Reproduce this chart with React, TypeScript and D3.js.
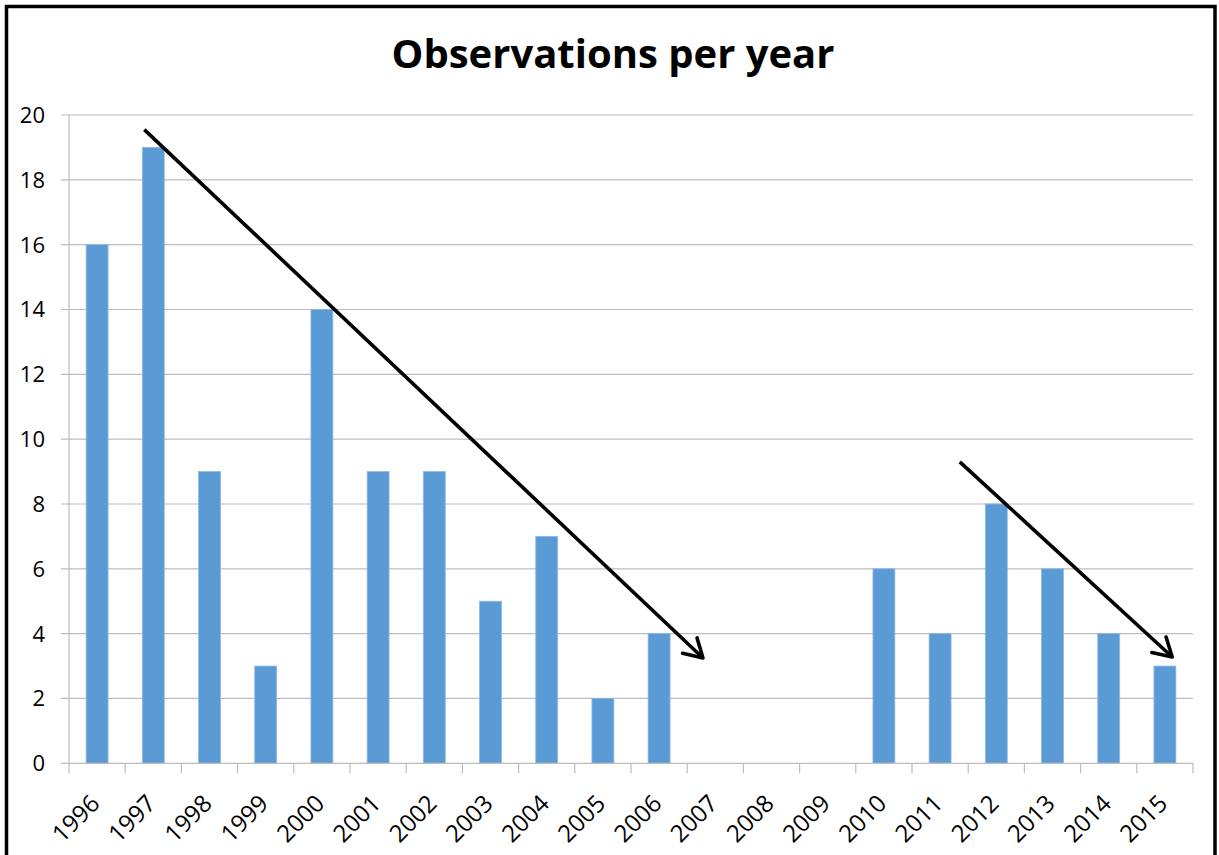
import React from "react";
import * as d3 from "d3";

const years = ["1996","1997","1998","1999","2000","2001","2002","2003","2004","2005","2006","2007","2008","2009","2010","2011","2012","2013","2014","2015"];
const counts = [16, 19, 9, 3, 14, 9, 9, 5, 7, 2, 4, 0, 0, 0, 6, 4, 8, 6, 4, 3];
const yTicks = [0, 2, 4, 6, 8, 10, 12, 14, 16, 18, 20];
const title = "Observations per year";
// trend arrows: category + fractional offset from band centre, value
const arrows = [
  { from: { year: "1997", dx: -0.16, v: 19.55 }, to: { year: "2007", dx: -0.22, v: 3.25 } },
  { from: { year: "2011", dx: 0.35, v: 9.3 }, to: { year: "2015", dx: 0.13, v: 3.28 } },
];

const W = 1219, H = 855;
const left = 69, right = 1193, top = 115, bottom = 763.3;

export default function App() {
  const x = d3.scaleBand<string>().domain(years).range([left, right]).paddingInner(0.61).paddingOuter(0.305);
  const step = (right - left) / years.length;
  const y = d3.scaleLinear().domain([0, 20]).range([bottom, top]);
  const cx = (yr: string, dx: number) => (x(yr) as number) + x.bandwidth() / 2 + dx * step;
  const font = "'Open Sans', sans-serif";
  return (
    <div style={{ position: "absolute", left: 0, top: 0 }}>
      <svg width={W} height={H} style={{ display: "block", background: "#fff" }}>
        <defs>
          <marker id="ah" markerUnits="userSpaceOnUse" markerWidth="40" markerHeight="40" viewBox="-25 -20 30 40" refX="0" refY="0" orient="auto">
            <path d="M-18,-10.5 L0,0 L-18,10.5" fill="none" stroke="#000" strokeWidth={3.6} strokeLinecap="round" strokeLinejoin="round" />
          </marker>
        </defs>
        <rect x={6.5} y={6.5} width={1208.5} height={H + 10} fill="#fff" stroke="#000" strokeWidth={3.5} />
        <text x={613} y={68} textAnchor="middle" fontFamily={font} fontWeight={700} fontSize={40} fill="#000">{title}</text>
        {yTicks.map((t) => (
          <g key={t}>
            {t > 0 && <line x1={left - 8} x2={right} y1={y(t)} y2={y(t)} stroke="#BDBDBD" strokeWidth={1.2} />}
            <text x={45} y={y(t)} dy="0.36em" textAnchor="end" fontFamily={font} fontSize={22} fill="#000">{t}</text>
          </g>
        ))}
        <line x1={left} x2={left} y1={top} y2={bottom} stroke="#BDBDBD" strokeWidth={1.2} />
        {years.map((yr, i) => (
          <rect key={yr} x={x(yr)} y={y(counts[i])} width={x.bandwidth()} height={bottom - y(counts[i])} fill="#5B9BD5" stroke="#8DB8E2" strokeWidth={0.8} />
        ))}
        <line x1={left - 8} x2={right} y1={bottom} y2={bottom} stroke="#BDBDBD" strokeWidth={1.2} />
        {d3.range(years.length + 1).map((i) => (
          <line key={i} x1={left + i * step} x2={left + i * step} y1={bottom} y2={bottom + 10} stroke="#BDBDBD" strokeWidth={1.2} />
        ))}
        {years.map((yr) => {
          const px = (x(yr) as number) + x.bandwidth() / 2 + 4;
          const py = 805;
          return (
            <text key={yr} transform={`translate(${px},${py}) rotate(-45)`} textAnchor="end" fontFamily={font} fontSize={24} fill="#000">{yr}</text>
          );
        })}
        {arrows.map((a, i) => (
          <line key={i} x1={cx(a.from.year, a.from.dx)} y1={y(a.from.v)} x2={cx(a.to.year, a.to.dx)} y2={y(a.to.v)} stroke="#000" strokeWidth={3.6} markerEnd="url(#ah)" />
        ))}
      </svg>
    </div>
  );
}
